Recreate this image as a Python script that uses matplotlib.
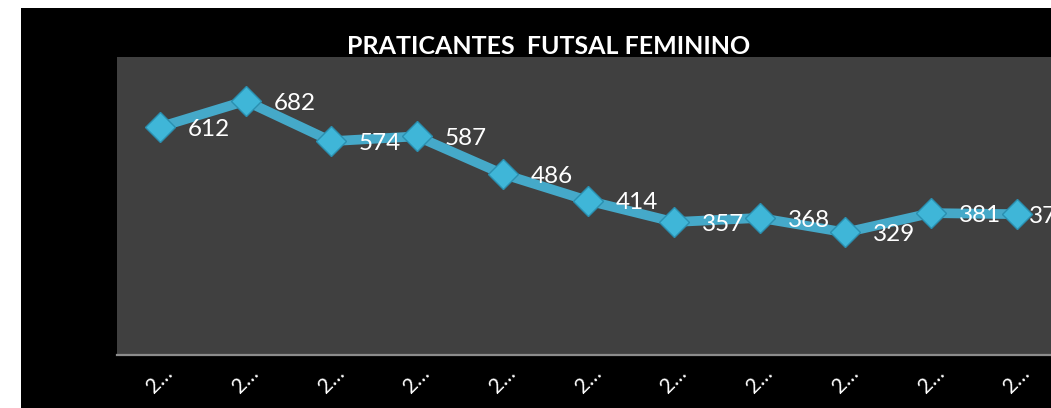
import matplotlib.pyplot as plt
from matplotlib.patches import Rectangle

plt.rcParams['font.family'] = ['Lato', 'DejaVu Sans']

# Data
anos = ['2…'] * 11
praticantes = [612, 682, 574, 587, 486, 414, 357, 368, 329, 381, 378]
rotulos = ['612', '682', '574', '587', '486', '414', '357', '368', '329', '381', '378']

W, H = 1051, 408
fig = plt.figure(figsize=(W / 100, H / 100), dpi=100, facecolor='white')

# black chart area (white strip on left and top)
fig.patches.append(Rectangle((21 / W, 0), 1, (H - 8) / H, transform=fig.transFigure,
                             facecolor='black', edgecolor='none', zorder=-5))

step = 85.7
n_slots = 12
ax = fig.add_axes([117 / W, (H - 355) / H, n_slots * step / W, (355 - 57) / H])
ax.set_zorder(2)
ax.set_facecolor('#404040')

x = list(range(len(praticantes)))
ax.plot(x, praticantes, color='#45a9c9', linewidth=7, solid_joinstyle='round', zorder=3,
        marker='D', markersize=15, markerfacecolor='#3fb6d8', markeredgecolor='#2a8fb0',
        markeredgewidth=1, clip_on=False)

for i, (xi, yi, lab) in enumerate(zip(x, praticantes, rotulos)):
    dx = 9 if i == len(x) - 1 else 20
    ax.annotate(lab, (xi, yi), xytext=(dx, -1.5), textcoords='offset points',
                ha='left', va='center', color='white', fontsize=17.5, zorder=4,
                annotation_clip=False)

ax.set_xlim(-0.5, n_slots - 0.5)
ax.set_ylim(0, 800)
ax.set_xticks(x)
ax.set_xticklabels(anos, rotation=45, color='white', fontsize=15)
ax.tick_params(axis='x', length=0, pad=6)
ax.set_yticks([])
for s in ['top', 'right', 'left']:
    ax.spines[s].set_visible(False)
ax.spines['bottom'].set_color('#8c8c8c')
ax.spines['bottom'].set_linewidth(1.6)

fig.text(549 / W, (H - 47) / H, 'PRATICANTES  FUTSAL FEMININO', ha='center', va='center',
         color='white', fontsize=18, fontweight='bold')

fig.savefig('out.png', dpi=100, facecolor=fig.get_facecolor())
